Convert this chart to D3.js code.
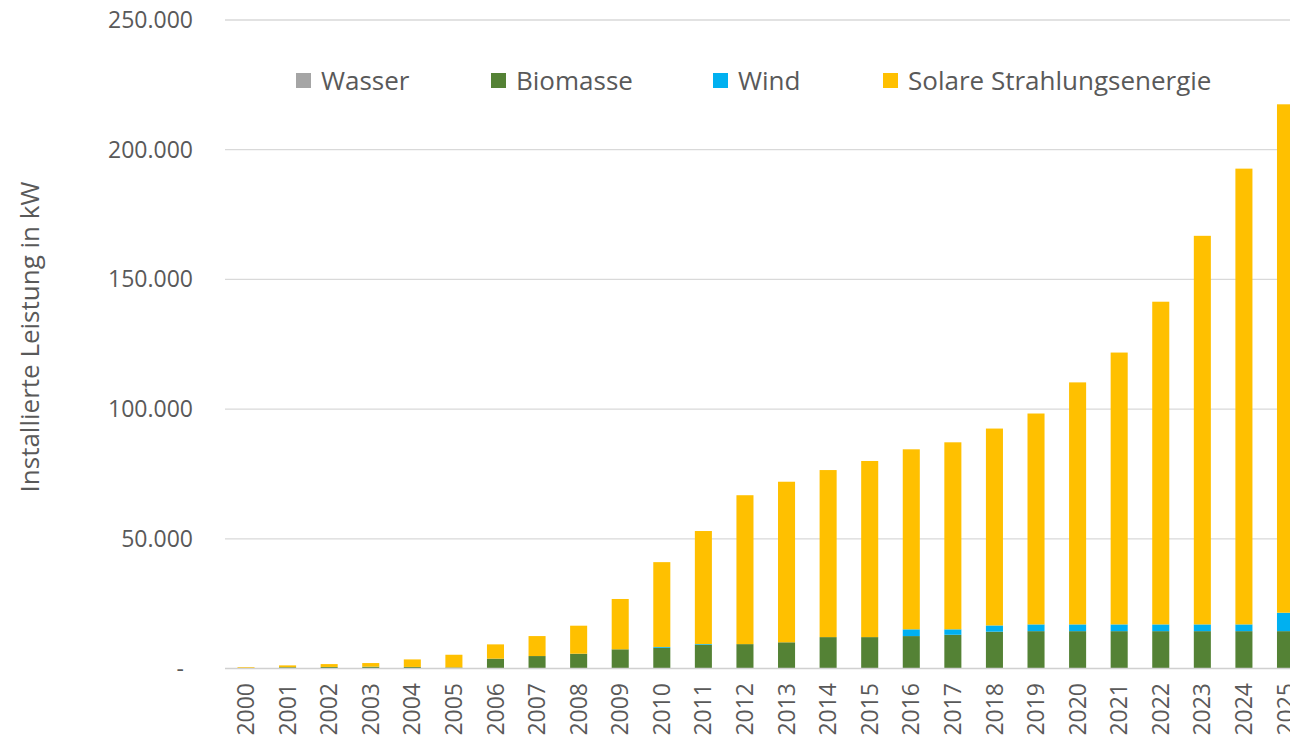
<!DOCTYPE html>
<html><head><meta charset="utf-8">
<script src="https://cdn.jsdelivr.net/npm/d3@7"></script>
<style>body{margin:0;background:#fff}svg{display:block}text{font-family:"Open Sans",sans-serif;fill:#595959}</style>
</head><body>
<svg id="c" width="1290" height="740"></svg>
<script>
const years = ["2000","2001","2002","2003","2004","2005","2006","2007","2008","2009","2010","2011","2012","2013","2014","2015","2016","2017","2018","2019","2020","2021","2022","2023","2024","2025"];
const wasser =   [0,0,0,0,0,0,0,0,0,0,0,0,0,0,0,0,0,0,0,0,0,0,0,0,0,0];
const biomasse = [0,500,600,700,600,400,3800,4800,5700,7400,8000,9100,9400,10100,12100,12100,12500,13000,14200,14400,14400,14400,14400,14400,14400,14400];
const wind =     [0,0,0,0,0,0,0,0,0,0,300,300,0,0,0,0,2600,2100,2400,2600,2600,2600,2600,2600,2600,7100];
const solar =    [500,700,1100,1400,2900,4900,5500,7700,10800,19400,32700,43600,57400,61900,64400,67900,69400,72100,75900,81300,93300,104800,124400,149800,175700,196000];
const yTicks = [0,50000,100000,150000,200000,250000];
const seriesNames = ["Wasser","Biomasse","Wind","Solare Strahlungsenergie"];
const colors = ["#A5A5A5","#548235","#00B0F0","#FFC000"];

const svg = d3.select("#c");
const step = 41.58;
const x = d3.scaleBand().domain(years).range([246 - step/2, 246 - step/2 + step*years.length]).paddingInner(0.59).paddingOuter(0.295);
const y = d3.scaleLinear().domain([0,250000]).range([668.5,20]);

const fmt = v => v === 0 ? "-" : d3.format(",")(v).replace(/,/g,".");

// gridlines
svg.append("g").selectAll("line").data(yTicks.filter(d=>d>0)).join("line")
  .attr("x1",225).attr("x2",1290).attr("y1",d=>y(d)).attr("y2",d=>y(d))
  .attr("stroke","#d9d9d9").attr("stroke-width",1.3);

// y labels
svg.append("g").selectAll("text").data(yTicks).join("text")
  .attr("x",d=>d===0?184:193).attr("y",d=>y(d)).attr("dy","0.35em")
  .attr("text-anchor","end").attr("font-size",23).text(fmt);

// stacked bars
const rows = years.map((yr,i)=>({year:yr, Wasser:wasser[i], Biomasse:biomasse[i], Wind:wind[i], "Solare Strahlungsenergie":solar[i]}));
const stack = d3.stack().keys(["Wasser","Biomasse","Wind","Solare Strahlungsenergie"])(rows);
svg.append("g").selectAll("g").data(stack).join("g").attr("fill",(d,i)=>colors[i])
  .selectAll("rect").data(d=>d).join("rect")
  .attr("x",d=>x(d.data.year)).attr("width",x.bandwidth())
  .attr("y",d=>y(d[1])).attr("height",d=>Math.max(0,y(d[0])-y(d[1])));

// axis baseline
svg.append("line").attr("x1",225).attr("x2",1290).attr("y1",y(0)).attr("y2",y(0))
  .attr("stroke","#d0d0d0").attr("stroke-width",1.5);

// x labels
svg.append("g").selectAll("text").data(years).join("text")
  .attr("transform",d=>`translate(${x(d)+x.bandwidth()/2},683) rotate(-90)`)
  .attr("dy","0.35em").attr("text-anchor","end").attr("font-size",23).text(d=>d);

// y title
svg.append("text").attr("transform","translate(30,337) rotate(-90)")
  .attr("text-anchor","middle").attr("dy","0.35em").attr("font-size",26).text("Installierte Leistung in kW");

// legend
const legX = [296,491,713,883];
const lg = svg.append("g").selectAll("g").data(seriesNames).join("g")
  .attr("transform",(d,i)=>`translate(${legX[i]},0)`);
lg.append("rect").attr("x",0).attr("y",73).attr("width",15).attr("height",15).attr("fill",(d,i)=>colors[i]);
lg.append("text").attr("x",25).attr("y",81).attr("dy","0.35em").attr("font-size",26).text(d=>d);
</script>
</body></html>
